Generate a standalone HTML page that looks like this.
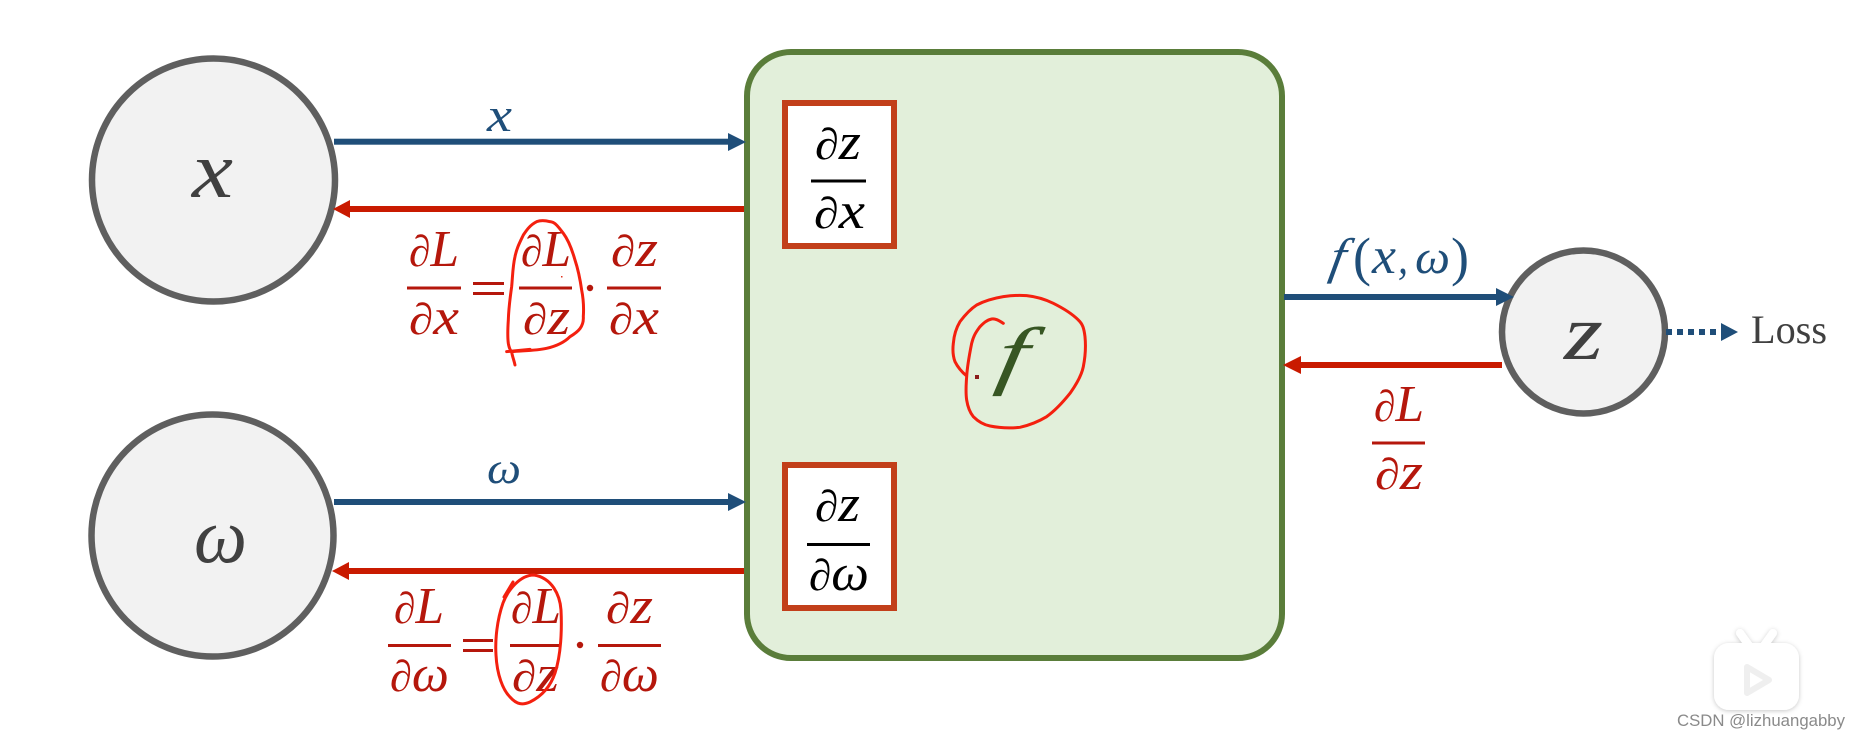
<!DOCTYPE html>
<html><head><meta charset="utf-8">
<style>
html,body{margin:0;padding:0;background:#fff}
svg{display:block}
text{font-family:"Liberation Serif",serif;font-style:italic}
.r{fill:#b5170c}
.b{fill:#1f4e79}
.k{fill:#000}
.g{fill:#404040}
.n{font-style:normal}
.scr{fill:none;stroke:#f4200f;stroke-width:3;stroke-linecap:round;stroke-linejoin:round}
</style></head>
<body>
<svg width="1859" height="738" viewBox="0 0 1859 738" xmlns="http://www.w3.org/2000/svg">
<defs><filter id="sh" x="-20%" y="-20%" width="140%" height="140%"><feDropShadow dx="0" dy="1" stdDeviation="2.5" flood-color="#000" flood-opacity=".22"/></filter></defs>
<rect width="1859" height="738" fill="#fff"/>

<!-- main block -->
<rect x="747" y="52" width="535" height="606" rx="44" ry="44" fill="#e2efda" stroke="#5a7d3a" stroke-width="6"/>
<rect x="785" y="103" width="109" height="143" fill="#fff" stroke="#c23f1a" stroke-width="6"/>
<rect x="785" y="465" width="109" height="143" fill="#fff" stroke="#c23f1a" stroke-width="6"/>

<!-- circles -->
<circle cx="213.5" cy="180" r="121.5" fill="#f2f2f2" stroke="#5f5f5f" stroke-width="6.5"/>
<circle cx="212.5" cy="535.5" r="121" fill="#f2f2f2" stroke="#5f5f5f" stroke-width="6.5"/>
<circle cx="1583.5" cy="332" r="81.5" fill="#f2f2f2" stroke="#5f5f5f" stroke-width="6.5"/>

<!-- blue arrows -->
<g fill="#1f4e79">
<rect x="334" y="138.7" width="396" height="6"/><polygon points="728,133 746,142 728,151"/>
<rect x="334" y="499" width="396" height="6"/><polygon points="728,493 746,502 728,511"/>
<rect x="1284" y="294" width="214" height="6"/><polygon points="1496,288 1514,297 1496,306"/>
<polygon points="1721,323 1738,332 1721,341"/>
</g>
<line x1="1666" y1="332" x2="1721" y2="332" stroke="#1f4e79" stroke-width="6" stroke-dasharray="6 5"/>

<!-- red arrows -->
<g fill="#c91a00">
<rect x="348" y="206" width="396" height="6"/><polygon points="333,209 350,200 350,218"/>
<rect x="348" y="568" width="396" height="6"/><polygon points="332,571 349,562 349,580"/>
<rect x="1299" y="362" width="203" height="6"/><polygon points="1283,365 1301,356 1301,374"/>
</g>

<!-- node glyphs -->
<text class="g" x="192" y="197" font-size="80" textLength="41" lengthAdjust="spacingAndGlyphs">x</text>
<text class="g" x="194" y="562" font-size="78" textLength="53" lengthAdjust="spacingAndGlyphs">ω</text>
<text class="g" x="1564" y="359" font-size="78" textLength="39" lengthAdjust="spacingAndGlyphs">z</text>
<text transform="translate(994 380) skewX(-10)" x="0" y="0" font-size="76" fill="#375623" textLength="30" lengthAdjust="spacingAndGlyphs">f</text>

<!-- connector labels -->
<text class="b" x="487" y="131" font-size="48" textLength="25" lengthAdjust="spacingAndGlyphs">x</text>
<text class="b" x="487" y="483" font-size="44" textLength="34" lengthAdjust="spacingAndGlyphs">ω</text>
<g font-size="50">
<text class="b" transform="translate(1328 273) skewX(-10)" x="0" y="0" textLength="15" lengthAdjust="spacingAndGlyphs">f</text>
<text class="b n" x="1353" y="275" font-size="54" textLength="18" lengthAdjust="spacingAndGlyphs">(</text>
<text class="b" x="1372" y="273" font-size="52" textLength="24" lengthAdjust="spacingAndGlyphs">x</text>
<text class="b" x="1398" y="273" font-size="46" textLength="10" lengthAdjust="spacingAndGlyphs">,</text>
<text class="b" x="1415" y="273" font-size="48" textLength="35" lengthAdjust="spacingAndGlyphs">ω</text>
<text class="b n" x="1451" y="275" font-size="54" textLength="18" lengthAdjust="spacingAndGlyphs">)</text>
</g>
<text class="g n" x="1751" y="343" font-size="40" textLength="76" lengthAdjust="spacingAndGlyphs">Loss</text>

<!-- box fractions -->
<g font-size="52">
<text class="k" x="815" y="159" textLength="46" lengthAdjust="spacingAndGlyphs"><tspan font-size="44">∂</tspan>z</text>
<rect class="k" x="811" y="179.5" width="55" height="3"/>
<text class="k" x="814" y="228" textLength="51" lengthAdjust="spacingAndGlyphs"><tspan font-size="44">∂</tspan>x</text>
<text class="k" x="815" y="521" textLength="45" lengthAdjust="spacingAndGlyphs"><tspan font-size="44">∂</tspan>z</text>
<rect class="k" x="807" y="543" width="63" height="3"/>
<text class="k" x="809" y="590" textLength="60" lengthAdjust="spacingAndGlyphs"><tspan font-size="44">∂</tspan>ω</text>
</g>

<!-- red equation 1 -->
<g font-size="52">
<text class="r" x="409" y="266" textLength="50" lengthAdjust="spacingAndGlyphs"><tspan font-size="44">∂</tspan>L</text>
<rect class="r" x="407" y="286.5" width="54" height="3"/>
<text class="r" x="409" y="334" textLength="50" lengthAdjust="spacingAndGlyphs"><tspan font-size="44">∂</tspan>x</text>
<rect class="r" x="473" y="282" width="31" height="3"/><rect class="r" x="473" y="292" width="31" height="3"/>
<text class="r" x="521" y="266" textLength="50" lengthAdjust="spacingAndGlyphs"><tspan font-size="44">∂</tspan>L</text>
<rect class="r" x="519" y="286.5" width="53" height="3"/>
<text class="r" x="523" y="334" textLength="47" lengthAdjust="spacingAndGlyphs"><tspan font-size="44">∂</tspan>z</text>
<circle class="r" cx="590" cy="288" r="3.2"/>
<text class="r" x="611" y="266" textLength="47" lengthAdjust="spacingAndGlyphs"><tspan font-size="44">∂</tspan>z</text>
<rect class="r" x="607" y="286.5" width="54" height="3"/>
<text class="r" x="609" y="334" textLength="50" lengthAdjust="spacingAndGlyphs"><tspan font-size="44">∂</tspan>x</text>
</g>

<!-- red equation 2 -->
<g font-size="52">
<text class="r" x="394" y="623" textLength="50" lengthAdjust="spacingAndGlyphs"><tspan font-size="44">∂</tspan>L</text>
<rect class="r" x="388" y="644" width="63" height="3"/>
<text class="r" x="390" y="691" textLength="59" lengthAdjust="spacingAndGlyphs"><tspan font-size="44">∂</tspan>ω</text>
<rect class="r" x="463" y="639" width="30" height="3"/><rect class="r" x="463" y="649" width="30" height="3"/>
<text class="r" x="511" y="623" textLength="50" lengthAdjust="spacingAndGlyphs"><tspan font-size="44">∂</tspan>L</text>
<rect class="r" x="510" y="644" width="50" height="3"/>
<text class="r" x="512" y="691" textLength="47" lengthAdjust="spacingAndGlyphs"><tspan font-size="44">∂</tspan>z</text>
<circle class="r" cx="580" cy="645" r="3.2"/>
<text class="r" x="606" y="623" textLength="47" lengthAdjust="spacingAndGlyphs"><tspan font-size="44">∂</tspan>z</text>
<rect class="r" x="598" y="644" width="63" height="3"/>
<text class="r" x="600" y="691" textLength="59" lengthAdjust="spacingAndGlyphs"><tspan font-size="44">∂</tspan>ω</text>
</g>

<!-- right fraction -->
<g font-size="52">
<text class="r" x="1374" y="421" textLength="50" lengthAdjust="spacingAndGlyphs"><tspan font-size="44">∂</tspan>L</text>
<rect class="r" x="1372" y="441.5" width="53" height="3"/>
<text class="r" x="1375" y="489" textLength="48" lengthAdjust="spacingAndGlyphs"><tspan font-size="44">∂</tspan>z</text>
</g>

<!-- handwritten scribbles -->
<path class="scr" transform="translate(390 220) scale(.3333)" style="stroke-width:9" d="M375 435C372 420 367 410 365 395C400 392 440 392 470 385C500 378 525 365 540 350C565 335 582 320 580 290C582 260 580 235 575 210C570 175 565 150 555 120C545 85 535 60 520 40C505 20 495 6 480 5C465 1 450 1 440 5C420 15 410 30 400 45C388 70 380 85 375 110C368 140 368 170 365 200C360 235 356 265 355 300C353 330 353 355 355 370C357 382 360 390 365 395M350 395L420 388"/>
<path class="scr" d="M534 575C520 575 508 590 503 603C497 620 495 640 496 655C497 675 503 690 510 697C517 705 523 705 530 702C540 697 550 688 555 673C561 655 562 630 561 610C560 595 552 578 534 575Z"/>
<path class="scr" d="M513 582L504 597"/>
<path class="scr" transform="translate(940 280) scale(.3333)" style="stroke-width:9" d="M190 130C175 120 165 115 155 117C140 120 130 130 120 140C105 160 100 170 95 190C88 225 82 255 80 290C78 315 77 340 80 360C84 385 90 398 100 410C115 425 130 434 150 438C180 444 210 445 240 442C270 435 295 425 320 410C345 392 370 365 390 340C410 312 425 285 430 260C436 230 438 200 435 170C432 145 428 132 415 120C395 100 370 85 340 70C315 58 290 50 260 47C235 45 210 47 190 50C160 55 135 62 110 75C90 88 75 105 60 125C48 145 42 165 40 190C37 215 40 232 45 245C55 265 68 278 80 288"/>
<rect x="975" y="375" width="4" height="4" fill="#8a1c1c"/>
<rect x="561" y="276" width="1.5" height="1.5" fill="#e2331f"/>

<!-- watermark -->
<g filter="url(#sh)" fill="#fff">
<path d="M1740 633L1750 647M1773 633L1763 647" stroke="#fff" stroke-width="8" stroke-linecap="round"/>
<rect x="1714" y="643" width="85" height="67" rx="15" ry="15"/>
</g>
<path d="M1747 667L1769 680L1747 693Z" fill="#fff" stroke="#efefef" stroke-width="6" stroke-linejoin="round"/>
<text class="n" x="1677" y="726" font-size="17" fill="#8a8a8a" textLength="168" lengthAdjust="spacingAndGlyphs" style="font-family:'Liberation Sans',sans-serif">CSDN @lizhuangabby</text>
</svg>
</body></html>
